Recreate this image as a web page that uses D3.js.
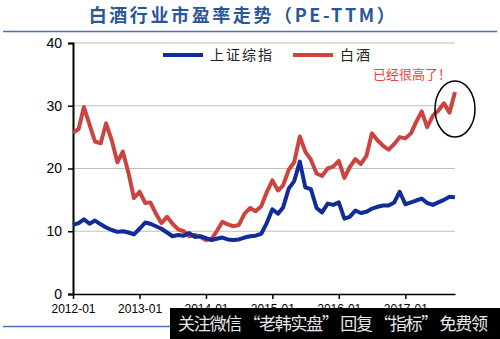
<!DOCTYPE html>
<html><head><meta charset="utf-8">
<script src="https://cdn.jsdelivr.net/npm/d3@7"></script>
<style>body{margin:0;background:#fff;}svg{display:block;}</style>
</head><body>
<svg id="chart" width="500" height="339"></svg>
<script>
// ---- data ----
const startMonth = "2012-01";
const monthCount = 70; // 2012-01 .. 2017-10, monthly
const dates = d3.range(monthCount).map(i => new Date(2012, i, 1));
const shIndex = [11.0,11.3,11.9,11.2,11.7,11.1,10.6,10.2,9.9,10.0,9.8,9.5,
  10.4,11.4,11.2,10.8,10.4,9.8,9.2,9.4,9.3,9.7,9.1,9.2,
  8.9,8.6,8.8,9.0,8.7,8.6,8.7,9.0,9.2,9.3,9.6,11.3,
  13.5,12.8,13.8,16.8,18.0,21.1,17.0,16.7,13.7,13.0,14.4,14.2,
  14.6,12.0,12.3,13.3,12.9,13.1,13.6,13.9,14.1,14.1,14.6,16.3,
  14.3,14.6,14.9,15.2,14.5,14.2,14.6,15.0,15.5,15.4];
const baijiu = [25.7,26.3,29.8,27.0,24.3,24.0,27.2,24.5,21.0,22.7,19.3,15.3,
  16.3,14.5,14.6,12.8,11.3,12.3,11.2,10.3,10.0,9.2,9.4,9.1,
  8.6,8.8,10.0,11.5,11.1,10.8,11.0,12.8,13.7,13.2,14.0,16.2,
  18.1,16.5,17.3,19.8,21.0,25.1,22.7,21.4,19.2,18.8,20.0,20.3,
  21.2,18.5,20.2,21.5,20.7,22.0,25.6,24.5,23.6,23.0,23.9,25.0,
  24.8,25.6,27.4,29.1,26.6,28.4,29.2,30.4,28.9,32.2];
const seriesNames = ["上证综指","白酒"];
const xTickLabels = ["2012-01","2013-01","2014-01","2015-01","2016-01","2017-01"];
const yTicks = [0,10,20,30,40];
const titleText = "白酒行业市盈率走势（PE-TTM）";
const noteText = "已经很高了！";
const watermark = "关注微信 “老韩实盘” 回复 “指标” 免费领";

// ---- drawing ----
const svg = d3.select("#chart");
const font = "'Liberation Sans', Arial, 'Noto Sans CJK SC', sans-serif";
const cjk = "'Noto Sans CJK SC', sans-serif";
const blue = "#0f2c98", red = "#cc4440";

const x = d3.scaleTime().domain([new Date(2012,0,1), new Date(2017,9,1)]).range([73, 455]);
const y = d3.scaleLinear().domain([0,40]).range([294, 43]);

// title
svg.append("text").attr("x", 243).attr("y", 22).attr("text-anchor","middle")
  .attr("font-family", cjk).attr("font-weight","bold").attr("font-size",18)
  .attr("letter-spacing", 2.6).attr("fill","#2b5797").text(titleText);
svg.append("line").attr("x1",3).attr("x2",497).attr("y1",31.5).attr("y2",31.5)
  .attr("stroke","#4a6fc0").attr("stroke-width",1.5);

// gridlines
svg.append("g").selectAll("line").data(yTicks.filter(d=>d>0)).join("line")
  .attr("x1",73).attr("x2",455).attr("y1",d=>y(d)).attr("y2",d=>y(d))
  .attr("stroke","#bfbfbf").attr("stroke-width",1.2);

// y axis
const yAxis = svg.append("g").attr("transform","translate(73,0)")
  .call(d3.axisLeft(y).tickValues(yTicks).tickSize(5).tickPadding(6));
yAxis.select(".domain").attr("stroke","#000").attr("stroke-width",2);
yAxis.selectAll(".tick line").attr("stroke","#000").attr("stroke-width",1.5);
yAxis.selectAll("text").attr("font-family",font).attr("font-size",14).attr("fill","#000");

// x axis
const tickDates = xTickLabels.map(s => new Date(+s.slice(0,4), +s.slice(5)-1, 1));
const xAxis = svg.append("g").attr("transform","translate(0,294)")
  .call(d3.axisBottom(x).tickValues(tickDates).tickSize(5).tickSizeOuter(0).tickPadding(5)
    .tickFormat((d,i)=>xTickLabels[i]));
xAxis.select(".domain").attr("stroke","#000").attr("stroke-width",1.5);
xAxis.selectAll(".tick line").attr("stroke","#000").attr("stroke-width",1.5);
xAxis.selectAll("text").attr("font-family",font).attr("font-size",12).attr("fill","#000");

// lines
const line = vals => d3.line().x((d,i)=>x(dates[i])).y(d=>y(d)).curve(d3.curveLinear)(vals);
svg.append("path").attr("d", line(baijiu)).attr("fill","none").attr("stroke",red)
  .attr("stroke-width",4).attr("stroke-linejoin","round");
svg.append("path").attr("d", line(shIndex)).attr("fill","none").attr("stroke",blue)
  .attr("stroke-width",4).attr("stroke-linejoin","round");

// legend
const legend = [{name:seriesNames[0], c:blue, x:163},{name:seriesNames[1], c:red, x:293}];
const lg = svg.append("g");
lg.selectAll("line").data(legend).join("line")
  .attr("x1",d=>d.x).attr("x2",d=>d.x+40).attr("y1",55).attr("y2",55)
  .attr("stroke",d=>d.c).attr("stroke-width",4);
lg.selectAll("text").data(legend).join("text")
  .attr("x",d=>d.x+47).attr("y",60).attr("font-family",cjk).attr("font-size",14)
  .attr("letter-spacing",2).attr("fill","#222").text(d=>d.name);

// annotation
svg.append("text").attr("x",373).attr("y",79).attr("font-family",cjk).attr("font-size",13)
  .attr("fill","#e8453c").text(noteText);
svg.append("ellipse").attr("cx",455).attr("cy",109).attr("rx",20).attr("ry",28)
  .attr("fill","none").attr("stroke","#000").attr("stroke-width",1.5);

// bottom rule
svg.append("line").attr("x1",3).attr("x2",497).attr("y1",326.5).attr("y2",326.5)
  .attr("stroke","#4a6fc0").attr("stroke-width",1.5);

// watermark overlay
svg.append("rect").attr("x",170).attr("y",308).attr("width",330).attr("height",31).attr("fill","#000");
svg.append("text").attr("x",178).attr("y",330).attr("font-family",cjk).attr("font-size",17)
  .attr("fill","#e8e8e8").attr("textLength",310).text(watermark);
</script>
</body></html>
